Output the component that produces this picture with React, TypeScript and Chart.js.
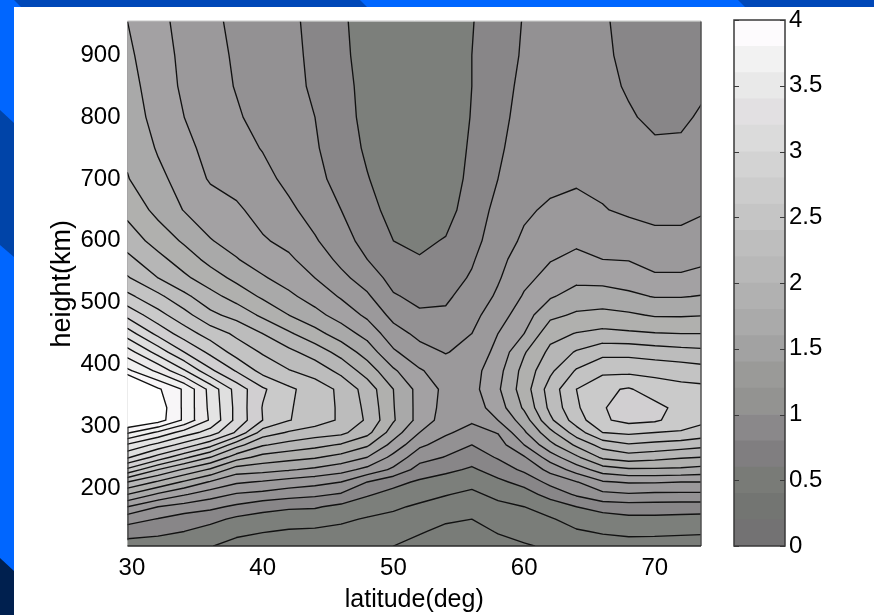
import React, { useEffect, useRef } from "react";
import { Chart, registerables } from "chart.js";

Chart.register(...registerables);

const latitudes = [29.66, 32, 34, 36, 38, 40, 42, 44, 46, 48, 50, 52, 54, 56, 58, 60, 62, 64, 66, 68, 70, 72, 73.53];
const heights = [106.5, 130, 150, 170, 190, 210, 230, 250, 270, 290, 310, 330, 360, 390, 420, 450, 480, 510, 540, 570, 600, 650, 700, 750, 800, 850, 900, 954.8];

// Density: one row per latitude, one value per height.
const densityByLatitude = [
  [.5,.7,.88,1.2,1.6,2.0,2.55,3.03,3.37,3.83,4.25,4.6,4.6,3.84,3.49,3.1,2.74,2.45,2.22,2.05,1.91,1.74,1.61,1.56,1.52,1.48,1.44,1.40],
  [.47,.66,.79,1.0,1.37,1.77,2.2,2.72,3.14,3.56,4.1,4.12,4.03,3.55,3.12,2.74,2.47,2.25,2.0,1.86,1.72,1.54,1.45,1.38,1.32,1.29,1.27,1.25],
  [.44,.6,.7,.92,1.22,1.57,1.97,2.45,2.92,3.31,3.76,3.76,3.77,3.22,2.8,2.5,2.27,2.05,1.84,1.7,1.57,1.39,1.32,1.26,1.2,1.17,1.16,1.14],
  [.41,.52,.66,.85,1.09,1.38,1.77,2.2,2.67,3.11,3.37,3.35,3.33,2.84,2.55,2.31,2.05,1.87,1.69,1.54,1.41,1.3,1.18,1.13,1.1,1.07,1.05,1.04],
  [.33,.45,.56,.76,.98,1.23,1.5,1.89,2.28,2.77,2.94,2.94,2.92,2.58,2.32,2.16,1.93,1.72,1.55,1.41,1.33,1.23,1.13,1.07,1.02,.99,.98,.96],
  [.29,.41,.52,.67,.94,1.18,1.47,1.73,2.02,2.31,2.6,2.59,2.63,2.33,2.18,2.0,1.76,1.57,1.42,1.31,1.22,1.13,1.06,.99,.94,.92,.91,.9],
  [.26,.38,.49,.63,.88,1.12,1.42,1.67,1.93,2.18,2.41,2.42,2.44,2.21,2.05,1.83,1.6,1.44,1.32,1.23,1.15,1.04,.95,.9,.87,.86,.85,.84],
  [.25,.37,.48,.62,.84,1.07,1.36,1.62,1.86,2.1,2.3,2.3,2.3,2.12,1.91,1.67,1.46,1.32,1.2,1.11,1.02,.92,.85,.82,.8,.77,.76,.75],
  [.26,.34,.44,.55,.78,1.0,1.28,1.53,1.78,2.05,2.17,2.17,2.16,1.94,1.73,1.5,1.32,1.18,1.05,.95,.88,.8,.74,.7,.67,.66,.64,.63],
  [.23,.31,.38,.5,.62,.8,1.14,1.4,1.63,1.86,1.97,1.95,1.91,1.71,1.51,1.33,1.16,1.03,.91,.8,.73,.66,.61,.57,.55,.54,.53,.52],
  [.2,.29,.35,.43,.54,.66,.96,1.14,1.33,1.5,1.62,1.61,1.6,1.43,1.23,1.08,.94,.82,.73,.66,.6,.54,.5,.48,.47,.46,.46,.46],
  [.13,.22,.3,.37,.47,.57,.72,.88,1.04,1.2,1.33,1.33,1.33,1.22,1.07,.95,.83,.75,.68,.61,.57,.51,.48,.46,.45,.45,.45,.45],
  [.08,.15,.23,.32,.41,.5,.65,.79,.91,1.03,1.1,1.13,1.15,1.1,.99,.9,.83,.77,.72,.67,.61,.54,.5,.48,.47,.47,.47,.47],
  [.11,.15,.2,.28,.36,.46,.57,.69,.8,.92,1.03,1.09,1.13,1.12,1.06,1.0,.94,.88,.82,.78,.73,.68,.65,.63,.61,.6,.6,.59],
  [.15,.21,.27,.35,.45,.56,.69,.82,.91,1.01,1.2,1.3,1.37,1.33,1.26,1.2,1.11,1.03,.98,.94,.91,.86,.8,.77,.75,.735,.72,.71],
  [.18,.27,.33,.4,.52,.66,.84,.98,1.2,1.37,1.5,1.63,1.7,1.67,1.58,1.4,1.31,1.22,1.15,1.1,1.03,.97,.93,.89,.86,.84,.82,.81],
  [.23,.3,.38,.5,.67,.86,1.06,1.3,1.54,1.74,1.96,2.05,2.09,1.96,1.85,1.73,1.55,1.38,1.26,1.19,1.14,1.03,.95,.91,.88,.86,.85,.85],
  [.26,.38,.48,.6,.83,.99,1.29,1.56,1.84,2.1,2.3,2.37,2.4,2.22,2.02,1.81,1.63,1.48,1.35,1.24,1.17,1.07,.97,.93,.9,.88,.87,.87],
  [.31,.42,.5,.69,.95,1.18,1.5,1.84,2.08,2.4,2.57,2.58,2.56,2.35,2.14,1.85,1.66,1.48,1.34,1.2,1.13,1.01,.96,.91,.88,.85,.83,.82],
  [.33,.44,.55,.71,.98,1.22,1.57,1.91,2.18,2.44,2.66,2.72,2.62,2.35,2.14,1.83,1.63,1.44,1.31,1.19,1.1,.97,.9,.86,.82,.78,.76,.75],
  [.32,.44,.55,.71,.96,1.22,1.57,1.87,2.14,2.4,2.63,2.66,2.5,2.34,2.1,1.81,1.58,1.39,1.23,1.13,1.04,.96,.89,.83,.76,.73,.71,.7],
  [.32,.43,.54,.7,.96,1.2,1.56,1.82,2.1,2.38,2.51,2.54,2.46,2.31,2.07,1.8,1.58,1.39,1.23,1.13,1.04,.96,.89,.83,.77,.74,.72,.71],
  [.33,.42,.53,.7,.96,1.2,1.53,1.8,2.06,2.32,2.45,2.48,2.45,2.28,2.05,1.8,1.59,1.41,1.26,1.16,1.08,.98,.94,.87,.82,.77,.74,.72],
];

const contourLevels = [.2, .4, .6, .8, 1, 1.2, 1.4, 1.6, 1.8, 2, 2.2, 2.4, 2.6, 2.8, 3, 3.2, 3.4, 3.6, 3.8, 4];
// Fill below the first level, then the fill above each level in turn.
const plotBandColors = ["#797c78", "#7a7d79", "#7c7f7b", "#888688", "#939193", "#9b999b", "#a3a1a3", "#a9a9a9", "#b0b0ae", "#b6b6b6", "#bcbcbc", "#c3c3c3", "#cacaca", "#d1cfd1", "#d8d7d8", "#dfdfdf", "#e4e4e4", "#ebe9ea", "#f1f1f1", "#f8f6f8", "#ffffff"];
const colorbarBandColors = ["#737273", "#737572", "#797b77", "#807e80", "#8a888a", "#939391", "#9a9a98", "#a2a2a2", "#aaaaaa", "#b1b1b1", "#b8b8b8", "#bebebe", "#c5c5c5", "#cccccc", "#d3d3d3", "#dbdbdb", "#e2e0e2", "#e9e9e9", "#f2f2f2", "#fdfbfd"];
const colorbarBandSize = [.2, .2, .2, .2, .2, .2, .2, .2, .2, .2, .2, .2, .2, .2, .2, .2, .2, .2, .2, .2];
const leftEdgeHeights = [116, 298];

const FONT = "'Liberation Sans', Arial, sans-serif";

type P = { x: number; y: number };

function contourSegments(level: number): P[] {
  const out: P[] = [];
  const cross = (a: P, va: number, b: P, vb: number): P => {
    const t = (level - va) / (vb - va);
    return { x: a.x + (b.x - a.x) * t, y: a.y + (b.y - a.y) * t };
  };
  for (let i = 0; i < latitudes.length - 1; i++) {
    for (let j = 0; j < heights.length - 1; j++) {
      const c = [
        { x: latitudes[i], y: heights[j] },
        { x: latitudes[i + 1], y: heights[j] },
        { x: latitudes[i + 1], y: heights[j + 1] },
        { x: latitudes[i], y: heights[j + 1] },
      ];
      const v = [densityByLatitude[i][j], densityByLatitude[i + 1][j], densityByLatitude[i + 1][j + 1], densityByLatitude[i][j + 1]];
      const pts: P[] = [];
      for (let k = 0; k < 4; k++) {
        const n = (k + 1) % 4;
        if ((v[k] >= level) !== (v[n] >= level)) pts.push(cross(c[k], v[k], c[n], v[n]));
      }
      if (pts.length === 2) out.push(pts[0], pts[1], { x: NaN, y: NaN });
      if (pts.length === 4) {
        const mean = (v[0] + v[1] + v[2] + v[3]) / 4;
        const firstHigh = v[0] >= level;
        if (firstHigh === mean >= level) {
          out.push(pts[0], pts[1], { x: NaN, y: NaN }, pts[2], pts[3], { x: NaN, y: NaN });
        } else {
          out.push(pts[3], pts[0], { x: NaN, y: NaN }, pts[1], pts[2], { x: NaN, y: NaN });
        }
      }
    }
  }
  return out;
}

const bandFillPlugin = {
  id: "bandFill",
  beforeDatasetsDraw(chart: any) {
    const { ctx, chartArea: a, scales } = chart;
    const X = (v: number) => scales.x.getPixelForValue(v);
    const Y = (v: number) => scales.y.getPixelForValue(v);
    ctx.save();
    ctx.beginPath();
    ctx.rect(a.left, a.top, a.right - a.left, a.bottom - a.top);
    ctx.clip();
    ctx.fillStyle = plotBandColors[0];
    ctx.fillRect(a.left, a.top, a.right - a.left, a.bottom - a.top);
    contourLevels.forEach((level, li) => {
      ctx.beginPath();
      for (let i = 0; i < latitudes.length - 1; i++) {
        for (let j = 0; j < heights.length - 1; j++) {
          const c = [
            [latitudes[i], heights[j], densityByLatitude[i][j]],
            [latitudes[i + 1], heights[j], densityByLatitude[i + 1][j]],
            [latitudes[i + 1], heights[j + 1], densityByLatitude[i + 1][j + 1]],
            [latitudes[i], heights[j + 1], densityByLatitude[i][j + 1]],
          ];
          const poly: number[][] = [];
          for (let k = 0; k < 4; k++) {
            const p = c[k];
            const q = c[(k + 1) % 4];
            if (p[2] >= level) poly.push([p[0], p[1]]);
            if ((p[2] >= level) !== (q[2] >= level)) {
              const t = (level - p[2]) / (q[2] - p[2]);
              poly.push([p[0] + (q[0] - p[0]) * t, p[1] + (q[1] - p[1]) * t]);
            }
          }
          if (poly.length < 3) continue;
          poly.forEach((pt, n) => {
            if (n === 0) ctx.moveTo(X(pt[0]), Y(pt[1]));
            else ctx.lineTo(X(pt[0]), Y(pt[1]));
          });
          ctx.closePath();
        }
      }
      ctx.fillStyle = plotBandColors[li + 1];
      ctx.fill();
    });
    ctx.restore();
  },
  afterDatasetsDraw(chart: any) {
    const { ctx, chartArea: a, scales } = chart;
    ctx.save();
    ctx.lineWidth = 1;
    ctx.strokeStyle = "#d0d0d0";
    ctx.beginPath();
    ctx.moveTo(a.left, a.top - 0.5);
    ctx.lineTo(a.right, a.top - 0.5);
    ctx.stroke();
    ctx.lineWidth = 1.5;
    ctx.strokeStyle = "#505050";
    ctx.beginPath();
    ctx.moveTo(a.right, a.top);
    ctx.lineTo(a.right, a.bottom);
    ctx.stroke();
    ctx.strokeStyle = "#2a2a2a";
    ctx.beginPath();
    ctx.moveTo(a.left, a.bottom);
    ctx.lineTo(a.right, a.bottom);
    ctx.stroke();
    ctx.lineWidth = 1.2;
    ctx.strokeStyle = "#3a3a3a";
    ctx.beginPath();
    ctx.moveTo(a.left + 0.5, scales.y.getPixelForValue(leftEdgeHeights[0]));
    ctx.lineTo(a.left + 0.5, scales.y.getPixelForValue(leftEdgeHeights[1]));
    ctx.stroke();
    ctx.restore();
  },
};

const colorbarFramePlugin = {
  id: "colorbarFrame",
  afterDatasetsDraw(chart: any) {
    const { ctx, chartArea: a, scales } = chart;
    ctx.save();
    ctx.strokeStyle = "#3a3a3a";
    ctx.lineWidth = 1;
    scales.y.ticks.forEach((t: any) => {
      const y = Math.round(scales.y.getPixelForValue(t.value)) + 0.5;
      ctx.beginPath();
      ctx.moveTo(a.left, y);
      ctx.lineTo(a.left + 5, y);
      ctx.moveTo(a.right - 5, y);
      ctx.lineTo(a.right, y);
      ctx.stroke();
    });
    ctx.lineWidth = 1.5;
    ctx.strokeRect(a.left, a.top, a.right - a.left, a.bottom - a.top);
    ctx.restore();
  },
};

const frameBlocks = [
  { color: "#0066ff", clip: "polygon(0 0, 874px 0, 874px 7px, 0 7px)" },
  { color: "#0048b8", clip: "polygon(14px 0, 360px 0, 367px 7px, 21px 7px)" },
  { color: "#0048b8", clip: "polygon(738px 0, 874px 0, 874px 7px, 745px 7px)" },
  { color: "#0066ff", clip: "polygon(0 0, 14px 0, 14px 615px, 0 615px)" },
  { color: "#0044a8", clip: "polygon(0 110px, 14px 123px, 14px 257px, 0 245px)" },
  { color: "#00204f", clip: "polygon(0 558px, 14px 571px, 14px 615px, 0 615px)" },
];

export default function App() {
  const mainRef = useRef<HTMLCanvasElement>(null);
  const barRef = useRef<HTMLCanvasElement>(null);

  useEffect(() => {
    const main = new Chart(mainRef.current!, {
      type: "scatter",
      data: {
        datasets: contourLevels.map((level) => ({
          label: String(level),
          data: contourSegments(level),
          showLine: true,
          spanGaps: false,
          pointRadius: 0,
          borderColor: "#111111",
          borderWidth: 1.35,
          borderCapStyle: "round",
          tension: 0,
        })),
      },
      options: {
        animation: false,
        responsive: false,
        events: [],
        layout: { padding: { left: 0, right: 173, top: 20, bottom: 0 } },
        plugins: { legend: { display: false }, tooltip: { enabled: false } },
        scales: {
          x: {
            type: "linear",
            min: 29.66,
            max: 73.53,
            afterFit: (s: any) => { s.height = 69; },
            grid: { display: false, drawTicks: false },
            border: { display: false },
            title: { display: true, text: "latitude(deg)", color: "#000", font: { family: FONT, size: 25 }, padding: 0 },
            ticks: { stepSize: 10, includeBounds: false, color: "#000", font: { family: FONT, size: 24 }, padding: 8, maxRotation: 0 },
          },
          y: {
            type: "linear",
            min: 106.5,
            max: 954.8,
            afterFit: (s: any) => { s.width = 127.5; },
            grid: { display: false, drawTicks: false },
            border: { display: false },
            title: { display: true, text: "height(km)", color: "#000", font: { family: FONT, size: 27 }, padding: { top: 46, bottom: 0 } },
            ticks: { stepSize: 100, includeBounds: false, color: "#000", font: { family: FONT, size: 24 }, padding: 7 },
          },
        },
      },
      plugins: [bandFillPlugin],
    } as any);

    const bar = new Chart(barRef.current!, {
      type: "bar",
      data: {
        labels: [""],
        datasets: colorbarBandSize.map((size, i) => ({
          label: String(contourLevels[i]),
          data: [size],
          backgroundColor: colorbarBandColors[i],
          borderWidth: 0,
          barPercentage: 1,
          categoryPercentage: 1,
          stack: "bands",
        })),
      },
      options: {
        animation: false,
        responsive: false,
        events: [],
        layout: { padding: { left: 14, right: 0, top: 20, bottom: 69 } },
        plugins: { legend: { display: false }, tooltip: { enabled: false } },
        scales: {
          x: { display: false, stacked: true },
          y: {
            stacked: true,
            position: "right",
            min: 0,
            max: 4,
            afterFit: (s: any) => { s.width = 89; },
            grid: { display: false, drawTicks: false },
            border: { display: false },
            ticks: { stepSize: 0.5, color: "#000", font: { family: FONT, size: 24 }, padding: 4, callback: (v: any) => String(v) },
          },
        },
      },
      plugins: [colorbarFramePlugin],
    } as any);

    return () => {
      main.destroy();
      bar.destroy();
    };
  }, []);

  return (
    <div style={{ position: "fixed", left: 0, top: 0, width: 874, height: 615, background: "#fff", overflow: "hidden" }}>
      {frameBlocks.map((b, i) => (
        <div key={i} style={{ position: "absolute", inset: 0, background: b.color, clipPath: b.clip }} />
      ))}
      <canvas ref={mainRef} width={874} height={615} style={{ position: "absolute", left: 0, top: 0 }} />
      <canvas ref={barRef} width={154} height={615} style={{ position: "absolute", left: 720, top: 0 }} />
    </div>
  );
}
